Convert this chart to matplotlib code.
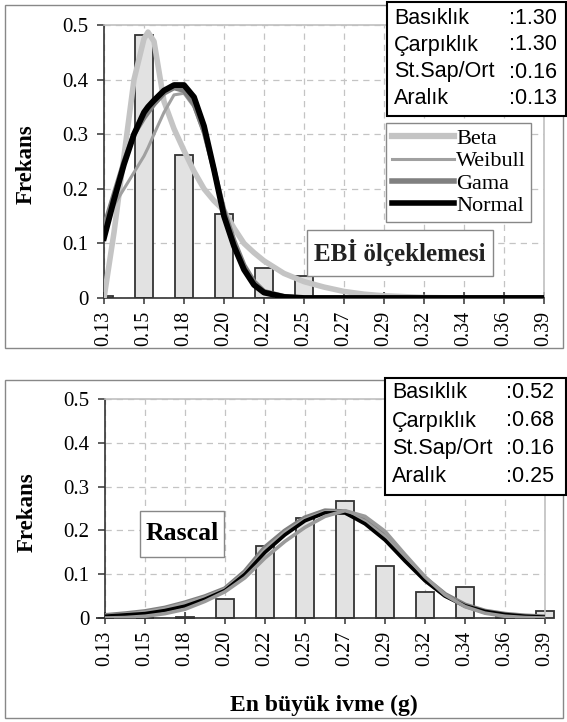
import numpy as np
import matplotlib.pyplot as plt
from matplotlib.patches import Rectangle
from matplotlib.lines import Line2D

plt.rcParams['font.family'] = ['Liberation Serif', 'DejaVu Serif']
plt.rcParams['lines.solid_joinstyle'] = 'round'

W, H = 567, 722

# kategori etiketleri (en büyük ivme, g)
tick_labels = ['0.13', '0.15', '0.18', '0.20', '0.22', '0.25',
               '0.27', '0.29', '0.32', '0.34', '0.36', '0.39']

# histogram frekanslari
top_bars = [0.003, 0.482, 0.262, 0.154, 0.055, 0.040, 0, 0, 0, 0, 0, 0]
bot_bars = [0, 0, 0.003, 0.043, 0.164, 0.229, 0.267, 0.118, 0.059, 0.071, 0.002, 0.016]

# dagilim egrileri - ust grafik (EBİ ölçeklemesi)
top_pos = [0, 0.25, 0.5, 0.75, 1, 1.1, 1.25, 1.5, 1.75, 2, 2.25, 2.5, 2.75, 3,
           3.25, 3.5, 3.75, 4, 4.5, 5, 5.5, 6, 6.5, 7, 8, 9, 10, 11]
top_beta = [0.0, 0.12, 0.26, 0.40, 0.475, 0.487, 0.47, 0.36, 0.31, 0.27, 0.232, 0.2,
            0.178, 0.16, 0.128, 0.10, 0.083, 0.068, 0.045, 0.03, 0.02, 0.012, 0.007,
            0.004, 0.001, 0, 0, 0]
top_weibull = [0.14, 0.17, 0.20, 0.23, 0.26, 0.275, 0.30, 0.34, 0.372, 0.375, 0.35,
               0.30, 0.23, 0.16, 0.10, 0.055, 0.025, 0.008, 0.001, 0, 0, 0, 0, 0,
               0, 0, 0, 0]
top_gama = [0.13, 0.19, 0.25, 0.30, 0.33, 0.34, 0.355, 0.375, 0.385, 0.38, 0.355,
            0.305, 0.235, 0.16, 0.105, 0.06, 0.03, 0.012, 0.003, 0, 0, 0, 0, 0,
            0, 0, 0, 0]
top_normal = [0.11, 0.18, 0.245, 0.30, 0.34, 0.35, 0.362, 0.38, 0.39, 0.39, 0.368,
              0.315, 0.235, 0.15, 0.095, 0.052, 0.024, 0.01, 0.002, 0, 0, 0, 0, 0,
              0, 0, 0, 0]

# dagilim egrileri - alt grafik (Rascal)
bot_pos = [0, 0.5, 1, 1.5, 2, 2.5, 3, 3.5, 4, 4.5, 5, 5.5, 6, 6.5, 7, 7.5, 8,
           8.5, 9, 9.5, 10, 10.5, 11]
bot_beta = [0.0, 0.001, 0.004, 0.01, 0.02, 0.038, 0.06, 0.092, 0.137, 0.175, 0.207,
            0.232, 0.245, 0.232, 0.198, 0.145, 0.094, 0.053, 0.026, 0.011, 0.004,
            0.001, 0.0]
bot_weibull = [0.005, 0.009, 0.014, 0.022, 0.034, 0.048, 0.066, 0.104, 0.157, 0.196,
               0.226, 0.243, 0.242, 0.221, 0.186, 0.136, 0.088, 0.052, 0.028, 0.014,
               0.007, 0.003, 0.001]
bot_gama = [0.005, 0.009, 0.014, 0.022, 0.034, 0.048, 0.066, 0.105, 0.16, 0.198,
            0.228, 0.244, 0.242, 0.222, 0.188, 0.138, 0.09, 0.053, 0.029, 0.015,
            0.008, 0.004, 0.002]
bot_normal = [0.004, 0.007, 0.01, 0.017, 0.027, 0.043, 0.063, 0.1, 0.15, 0.19, 0.222,
              0.24, 0.24, 0.215, 0.178, 0.13, 0.085, 0.05, 0.028, 0.015, 0.008,
              0.004, 0.002]

stat_names = ['Basıklık', 'Çarpıklık', 'St.Sap/Ort', 'Aralık']
top_stats = [':1.30', ':1.30', ':0.16', ':0.13']
bot_stats = [':0.52', ':0.68', ':0.16', ':0.25']


def fx(x):
    return x / W


def fy(y):
    return 1 - y / H


def frect(x0, y0, x1, y1, **kw):
    return Rectangle((fx(x0), fy(y1)), (x1 - x0) / W, (y1 - y0) / H,
                     transform=fig.transFigure, **kw)


def setup_axes(ax):
    ax.set_xlim(0, 11)
    ax.set_ylim(0, 0.5)
    ax.set_xticks(np.arange(len(tick_labels)))
    ax.set_xticklabels(tick_labels, rotation=90)
    ax.set_yticks([0, 0.1, 0.2, 0.3, 0.4, 0.5])
    ax.set_yticklabels(['0', '0.1', '0.2', '0.3', '0.4', '0.5'])
    ax.grid(True, color='#c4c4c4', linestyle=(0, (5, 4)), linewidth=0.9)
    ax.set_axisbelow(True)
    for s in ['top', 'right']:
        ax.spines[s].set_color('#c0c0c0')
        ax.spines[s].set_linewidth(1.2)
    for s in ['left', 'bottom']:
        ax.spines[s].set_color('#333333')
        ax.spines[s].set_linewidth(1.2)
    ax.tick_params(axis='x', direction='inout', length=8, width=1.1,
                   color='#333333', labelsize=14.5, pad=5)
    ax.tick_params(axis='y', direction='out', length=5, width=1.1,
                   color='#333333', labelsize=15, pad=6)


fig = plt.figure(figsize=(W / 100, H / 100), dpi=100)

# panel cerceveleri
fig.add_artist(frect(5, 5, 563, 348, fill=False, edgecolor='#888888', linewidth=1))
fig.add_artist(frect(5, 380, 563, 718, fill=False, edgecolor='#888888', linewidth=1))

ax1 = fig.add_axes([fx(104), fy(298), 440 / W, 273 / H])
ax2 = fig.add_axes([fx(105), fy(618), 440 / W, 219 / H])

idx = np.arange(len(tick_labels))
ax1.bar(idx, top_bars, width=0.45, color='#e2e2e2', edgecolor='#333333',
        linewidth=1.3, zorder=2)
ax2.bar(idx, bot_bars, width=0.45, color='#e2e2e2', edgecolor='#333333',
        linewidth=1.3, zorder=2, clip_on=False)

ax1.plot(top_pos, top_beta, color='#c4c4c4', lw=4.0, zorder=3)
ax1.plot(top_pos, top_weibull, color='#a0a0a0', lw=2.2, zorder=3)
ax1.plot(top_pos, top_gama, color='#808080', lw=3.6, zorder=3)
ax1.plot(top_pos, top_normal, color='black', lw=4.2, zorder=4)

ax2.plot(bot_pos, bot_gama, color='#808080', lw=4.0, zorder=3)
ax2.plot(bot_pos, bot_weibull, color='#a0a0a0', lw=2.2, zorder=3)
ax2.plot(bot_pos, bot_normal, color='black', lw=2.6, zorder=4)
ax2.plot(bot_pos, bot_beta, color='#9a9a9a', lw=2.6, zorder=4)

setup_axes(ax1)
setup_axes(ax2)

handles = [Line2D([], [], color='#c4c4c4', lw=4.5),
           Line2D([], [], color='#a0a0a0', lw=2.2),
           Line2D([], [], color='#808080', lw=4.0),
           Line2D([], [], color='black', lw=4.0)]
leg = ax1.legend(handles, ['Beta', 'Weibull', 'Gama', 'Normal'],
                 loc='upper left', bbox_to_anchor=(fx(386), fy(123)),
                 bbox_transform=fig.transFigure, fontsize=16, fancybox=False,
                 framealpha=1, edgecolor='#888888', borderpad=0.25,
                 handlelength=2.8, handletextpad=0.1, labelspacing=0.08,
                 borderaxespad=0)
leg.get_frame().set_linewidth(1)

# etiket kutulari
fig.add_artist(frect(307, 230, 493, 276, facecolor='white', edgecolor='#888888',
                     linewidth=1, zorder=5))
fig.text(fx(400), fy(253), 'EBİ ölçeklemesi', fontsize=18, fontweight='bold',
         ha='center', va='center', zorder=6, color='#222222')
fig.add_artist(frect(140, 511, 224, 557, facecolor='white', edgecolor='#888888',
                     linewidth=1, zorder=5))
fig.text(fx(182), fy(534), 'Rascal', fontsize=18.5, fontweight='bold',
         ha='center', va='center', zorder=6)

# istatistik kutulari
sans = ['Liberation Sans', 'DejaVu Sans']
fig.add_artist(frect(387, 2, 566, 116, facecolor='white', edgecolor='black',
                     linewidth=1.5, zorder=5))
for i, (name, val) in enumerate(zip(stat_names, top_stats)):
    y = 18 + 27 * i
    fig.text(fx(394), fy(y), name, family=sans, fontsize=15.5, va='center', zorder=6)
    fig.text(fx(557), fy(y), val, family=sans, fontsize=15.5, va='center',
             ha='right', zorder=6)
fig.add_artist(frect(385, 378, 566, 495, facecolor='white', edgecolor='black',
                     linewidth=1.5, zorder=5))
for i, (name, val) in enumerate(zip(stat_names, bot_stats)):
    y = 393 + 28 * i
    fig.text(fx(392), fy(y), name, family=sans, fontsize=15.5, va='center', zorder=6)
    fig.text(fx(554), fy(y), val, family=sans, fontsize=15.5, va='center',
             ha='right', zorder=6)

fig.text(fx(26), fy(164), 'Frekans', rotation=90, fontsize=16.5, fontweight='bold',
         ha='center', va='center')
fig.text(fx(27), fy(512), 'Frekans', rotation=90, fontsize=16.5, fontweight='bold',
         ha='center', va='center')
fig.text(fx(324), fy(705), 'En büyük ivme (g)', fontsize=17, fontweight='bold',
         ha='center', va='center')

fig.savefig('out.png', dpi=100)
